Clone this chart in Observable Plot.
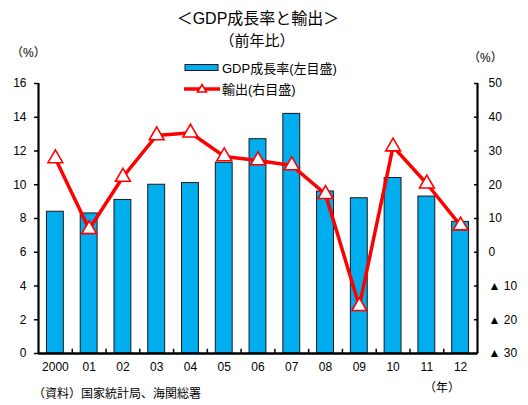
<!DOCTYPE html>
<html><head><meta charset="utf-8">
<script src="https://cdn.jsdelivr.net/npm/d3@7"></script>
<script src="https://cdn.jsdelivr.net/npm/@observablehq/plot@0.6"></script>
<style>
body{margin:0;background:#fff;}
#wrap{position:relative;width:528px;height:405px;font-family:"Liberation Sans","Noto Sans CJK JP",sans-serif;color:#000;}
.t{position:absolute;white-space:nowrap;line-height:1;}
</style></head>
<body><div id="wrap"></div>
<script>
const years = ["2000","01","02","03","04","05","06","07","08","09","10","11","12"];
const gdp = [8.4,8.3,9.1,10.0,10.1,11.3,12.7,14.2,9.6,9.2,10.4,9.3,7.8];
const exports = [27.8,6.8,22.3,34.6,35.4,28.4,27.2,25.7,17.2,-16.0,31.3,20.3,7.9];
const leftTicks = [0,2,4,6,8,10,12,14,16];
const rightTicks = [-30,-20,-10,0,10,20,30,40,50];

const toLeft = e => (e + 30) / 5;
const data = years.map((y,i)=>({i, year:y, gdp:gdp[i], ex:exports[i]}));
const font = '"Liberation Sans","Noto Sans CJK JP",sans-serif';

const chart = Plot.plot({
  width:528, height:405,
  marginTop:83, marginBottom:52, marginLeft:38, marginRight:51,
  style:{fontFamily:font, fontSize:"12px", color:"#000", background:"#fff"},
  x:{domain:[-0.5,12.5], axis:null},
  y:{domain:[0,16], axis:null},
  marks:[
    Plot.rectY(data,{x1:d=>d.i-0.25, x2:d=>d.i+0.25, y1:0, y2:"gdp", fill:"#00AEEF", stroke:"#1a1a1a", strokeWidth:1}),
    Plot.ruleX(d3.range(12),{x:d=>d+0.5, y1:0, y2:0.25, stroke:"#000", strokeWidth:1.5}),
    Plot.axisX(d3.range(13),{tickSize:0, tickPadding:9, label:null, tickFormat:i=>years[i], fontSize:12}),
    Plot.axisY(leftTicks,{anchor:"left", label:null, tickSize:4, tickPadding:8, strokeWidth:1.5, fontSize:12}),
    Plot.axisY(rightTicks.map(toLeft),{anchor:"right", label:null, tickSize:-4, tickPadding:15, strokeWidth:1.5, textAnchor:"start", fontSize:12,
      tickFormat:v=>{const e=Math.round(v*5-30); return e<0?"▲ "+(-e):String(e);}}),
    Plot.ruleX([-0.5,12.5],{y1:0,y2:16,stroke:"#000",strokeWidth:2.2}),
    Plot.ruleY([0],{x1:-0.5,x2:12.5,stroke:"#000",strokeWidth:2.5}),
    Plot.line(data,{x:"i", y:d=>toLeft(d.ex), stroke:"#FF0000", strokeWidth:3.5}),
    Plot.dot(data,{x:"i", y:d=>toLeft(d.ex), symbol:"triangle", r:5.5, fill:"#fff", stroke:"#FF0000", strokeWidth:1.6})
  ]
});
const wrap = document.getElementById("wrap");
wrap.appendChild(chart);
chart.style.position="absolute"; chart.style.left="0"; chart.style.top="0";

function addText(txt, x, y, size, anchor){
  const d=document.createElement("div"); d.className="t"; d.textContent=txt;
  d.style.fontSize=size+"px"; d.style.top=(y-size/2)+"px";
  if(anchor==="middle"){d.style.left=x+"px"; d.style.transform="translateX(-50%)";}
  else d.style.left=x+"px";
  wrap.appendChild(d);
}
addText("＜GDP成長率と輸出＞",258,19,16,"middle");
addText("（前年比）",257,40,15,"middle");
addText("（%）",11,53,12);
addText("（%）",468,58,12);
addText("GDP成長率(左目盛)",222,68,13);
addText("輸出(右目盛)",222,89,13);
addText("（年）",424,388,12);
addText("（資料）国家統計局、海関総署",33,394,12);

const ns="http://www.w3.org/2000/svg";
const lg=document.createElementNS(ns,"svg");
lg.setAttribute("width","40");lg.setAttribute("height","36");
lg.style.position="absolute";lg.style.left="182px";lg.style.top="60px";
lg.innerHTML='<rect x="3" y="4.5" width="33" height="6" fill="#00AEEF" stroke="#1a1a1a" stroke-width="1"/>'+
 '<line x1="2" y1="29" x2="38" y2="29" stroke="#FF0000" stroke-width="3.5"/>'+
 '<path d="M20,24.5 L24.5,32 L15.5,32 Z" fill="#fff" stroke="#FF0000" stroke-width="1.6"/>';
wrap.appendChild(lg);
</script></body></html>
